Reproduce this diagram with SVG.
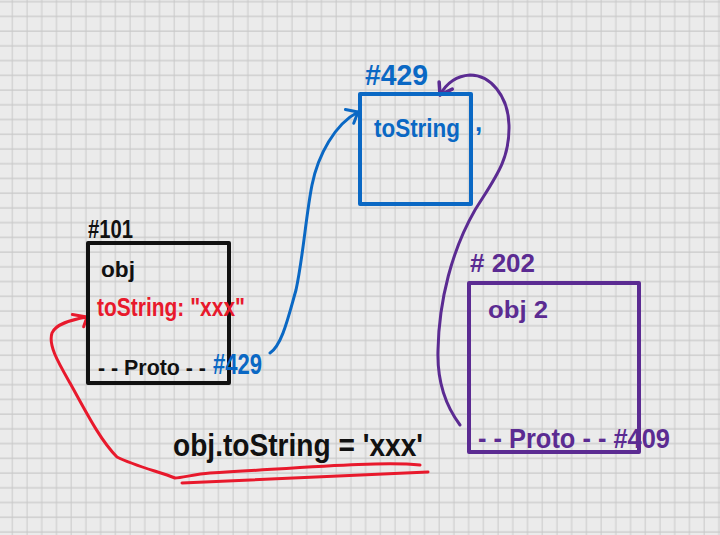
<svg xmlns="http://www.w3.org/2000/svg" width="720" height="535" viewBox="0 0 720 535">
<style>
  .t { font-family: "Liberation Sans", "DejaVu Sans", sans-serif; font-weight: bold; }
  .blk { fill: #111111; }
  .red { fill: #e8192c; }
  .blu { fill: #0a68c4; }
  .pur { fill: #5b2b92; }
  .box { fill: none; stroke-width: 4; stroke-linejoin: round; }
  .con { fill: none; stroke-width: 3; stroke-linecap: round; stroke-linejoin: round; }
</style>
<defs>
  <pattern id="grid" patternUnits="userSpaceOnUse" x="5.3" y="-5.3" width="14.72" height="14.73">
    <path d="M7 0 V14.73 M0 7 H14.72" stroke="#c9c9c9" stroke-width="1" fill="none"/>
  </pattern>
  <marker id="arrBlue" markerUnits="userSpaceOnUse" viewBox="-15 -15 30 30" markerWidth="30" markerHeight="30" refX="0" refY="0" orient="auto" overflow="visible">
    <path d="M-10,-8 L0,0 L-9,8" fill="none" stroke="#0a68c4" stroke-width="3" stroke-linecap="round" stroke-linejoin="round"/>
  </marker>
  <marker id="arrPurple" markerUnits="userSpaceOnUse" viewBox="-15 -15 30 30" markerWidth="30" markerHeight="30" refX="0" refY="0" orient="auto" overflow="visible">
    <path d="M-11,-8 L0,0 L-11,7" fill="none" stroke="#5b2b92" stroke-width="3.5" stroke-linecap="round" stroke-linejoin="round"/>
  </marker>
  <marker id="arrRed" markerUnits="userSpaceOnUse" viewBox="-15 -15 30 30" markerWidth="30" markerHeight="30" refX="0" refY="0" orient="auto" overflow="visible">
    <path d="M-14,-5 L0,0 L-5,9" fill="none" stroke="#e8192c" stroke-width="3" stroke-linecap="round" stroke-linejoin="round"/>
  </marker>
</defs>

<rect width="720" height="535" fill="#ebebeb"/>
<rect width="720" height="535" fill="url(#grid)"/>

<g id="connectors">
  <path class="con" stroke="#0a68c4" marker-end="url(#arrBlue)" d="M270,353 C282,345 288,318 296,290 C303,258 306,215 312,185 C318,155 335,124 358,112"/>
  <path class="con" stroke="#5b2b92" stroke-width="3.5" marker-end="url(#arrPurple)" d="M460,425 C445,405 437,380 438,350 C439,300 452,250 475,210 C495,178 510,160 509,125 C508,95 490,75 470,75 C455,76 446,84 440,95"/>
  <path class="con" stroke="#e8192c" marker-end="url(#arrRed)" d="M420,465 C380,461 300,468 210,473 C195,474 182,478 175,478 C160,472 135,466 117,457 C100,440 85,410 70,383 C58,362 48,345 52,333 C56,324 70,320 87,317"/>
</g>

<g id="node-101">
  <rect class="box" x="88" y="243" width="141" height="140" stroke="#111111"/>
  <text class="t blk" x="88" y="238" font-size="26" textLength="45" lengthAdjust="spacingAndGlyphs">#101</text>
  <text class="t blk" x="101" y="277" font-size="22" textLength="34" lengthAdjust="spacingAndGlyphs">obj</text>
  <text class="t red" x="97" y="316" font-size="26" textLength="148" lengthAdjust="spacingAndGlyphs">toString: "xxx"</text>
  <text class="t blk" x="98" y="375" font-size="22" textLength="108" lengthAdjust="spacingAndGlyphs">- - Proto - -</text>
  <text class="t blu" x="213" y="374" font-size="30" textLength="49" lengthAdjust="spacingAndGlyphs">#429</text>
</g>

<g id="node-429">
  <rect class="box" x="360" y="94" width="111" height="110" stroke="#0a68c4"/>
  <text class="t blu" x="365" y="85" font-size="30" textLength="63" lengthAdjust="spacingAndGlyphs">#429</text>
  <text class="t blu" x="374" y="137" font-size="26" textLength="86" lengthAdjust="spacingAndGlyphs">toString</text>
  <text class="t blu" x="475" y="131" font-size="26">,</text>
</g>

<g id="node-202">
  <rect class="box" x="469" y="283" width="170" height="169" stroke="#5b2b92"/>
  <text class="t pur" x="470" y="272" font-size="26" textLength="65" lengthAdjust="spacingAndGlyphs"># 202</text>
  <text class="t pur" x="488" y="318" font-size="24" textLength="60" lengthAdjust="spacingAndGlyphs">obj 2</text>
  <text class="t pur" x="478" y="448" font-size="28" textLength="192" lengthAdjust="spacingAndGlyphs">- - Proto - - #409</text>
</g>

<g id="expression">
  <text class="t blk" x="173" y="456" font-size="32" textLength="250" lengthAdjust="spacingAndGlyphs">obj.toString = 'xxx'</text>
  <path class="con" stroke="#e8192c" d="M182,483 C240,480 330,476 428,472"/>
</g>
</svg>
